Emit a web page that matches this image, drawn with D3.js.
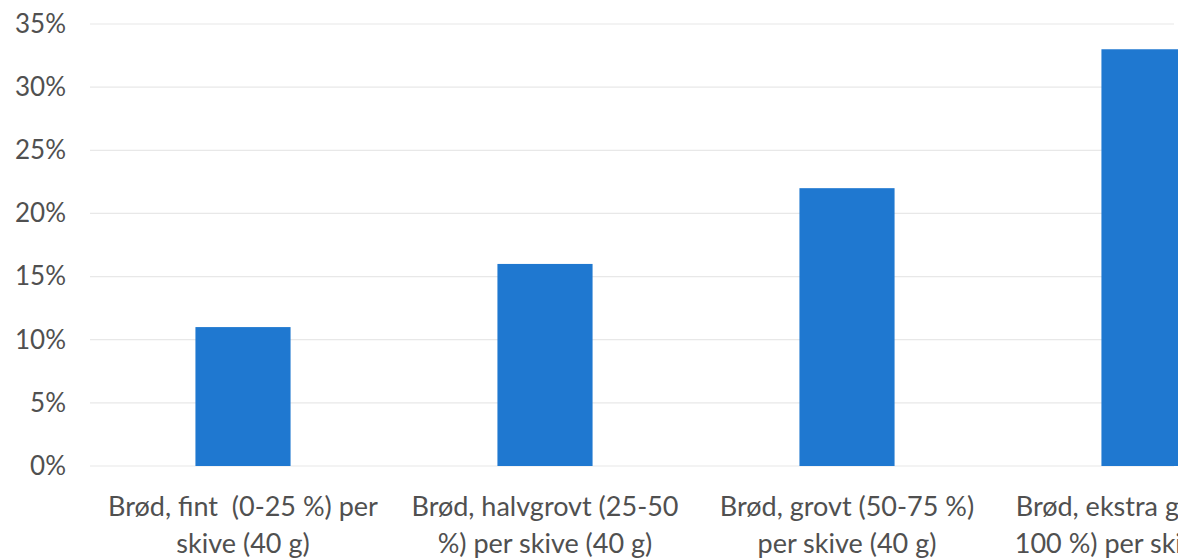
<!DOCTYPE html>
<html>
<head>
<meta charset="utf-8">
<script src="https://cdn.jsdelivr.net/npm/d3@7"></script>
<style>
  body { margin: 0; background: #fff; }
  text { font-family: Lato, "Open Sans", sans-serif; fill: #505050; white-space: pre; }
</style>
</head>
<body>
<div id="chart"></div>
<script>
// Chart data
// ==============================
var categories = [
  "Brød, fint (0-25 %) per skive (40 g)",
  "Brød, halvgrovt (25-50 %) per skive (40 g)",
  "Brød, grovt (50-75 %) per skive (40 g)",
  "Brød, ekstra grovt (75-100 %) per skive (40 g)"
];
var labelLines = [
  ["Brød, fint  (0-25 %) per", "skive (40 g)"],
  ["Brød, halvgrovt (25-50", "%) per skive (40 g)"],
  ["Brød, grovt (50-75 %)", "per skive (40 g)"],
  ["Brød, ekstra grovt (75-", "100 %) per skive (40 g)"]
];
var values = [0.11, 0.16, 0.22, 0.33];
var yTicks = [0, 0.05, 0.10, 0.15, 0.20, 0.25, 0.30, 0.35];

// SVG area
// ==============================
var svgWidth = 1190;
var svgHeight = 559;
var clipRight = 1178;

var svg = d3.select("#chart")
  .append("svg")
  .attr("width", svgWidth)
  .attr("height", svgHeight);

svg.append("clipPath")
  .attr("id", "clip")
  .append("rect")
  .attr("x", 0)
  .attr("y", 0)
  .attr("width", clipRight)
  .attr("height", svgHeight);

var chartGroup = svg.append("g").attr("clip-path", "url(#clip)");

// Scales
var xScale = d3.scaleBand()
  .domain(categories)
  .range([92, 92 + 4 * 302])
  .paddingInner(0.685)
  .paddingOuter(0.3425);

var yScale = d3.scaleLinear()
  .domain([0, 0.35])
  .range([466, 24]);

// Gridlines
chartGroup.selectAll(".grid")
  .data(yTicks)
  .enter()
  .append("line")
  .attr("class", "grid")
  .attr("x1", 90)
  .attr("x2", clipRight - 4)
  .attr("y1", d => yScale(d))
  .attr("y2", d => yScale(d))
  .attr("stroke", "#e8e8e8")
  .attr("stroke-width", 1.2);

// Y axis labels
var yAxis = d3.axisLeft(yScale)
  .tickValues(yTicks)
  .tickFormat(d3.format(".0%"))
  .tickSize(0)
  .tickPadding(0);

var yAxisGroup = svg.append("g")
  .attr("transform", "translate(66, 0)")
  .call(yAxis);
yAxisGroup.select(".domain").remove();
yAxisGroup.selectAll("text")
  .attr("font-size", 26)
  .attr("font-family", "Lato, sans-serif")
  .attr("fill", "#505050");

// Bars
chartGroup.selectAll(".bar")
  .data(values)
  .enter()
  .append("rect")
  .attr("class", "bar")
  .attr("x", (d, i) => xScale(categories[i]))
  .attr("y", d => yScale(d))
  .attr("width", xScale.bandwidth())
  .attr("height", d => yScale(0) - yScale(d))
  .attr("fill", "#1f78d0");

// Category labels (last one runs past the right edge, as in the source)
var labelGroups = chartGroup.selectAll(".cat")
  .data(labelLines)
  .enter()
  .append("text")
  .attr("class", "cat")
  .attr("text-anchor", "middle")
  .attr("font-size", 27);

labelGroups.selectAll("tspan")
  .data((d, i) => d.map(line => ({ line: line, i: i })))
  .enter()
  .append("tspan")
  .attr("x", d => xScale(categories[d.i]) + xScale.bandwidth() / 2)
  .attr("y", (d, j) => 516 + j * 37)
  .text(d => d.line);
</script>
</body>
</html>
